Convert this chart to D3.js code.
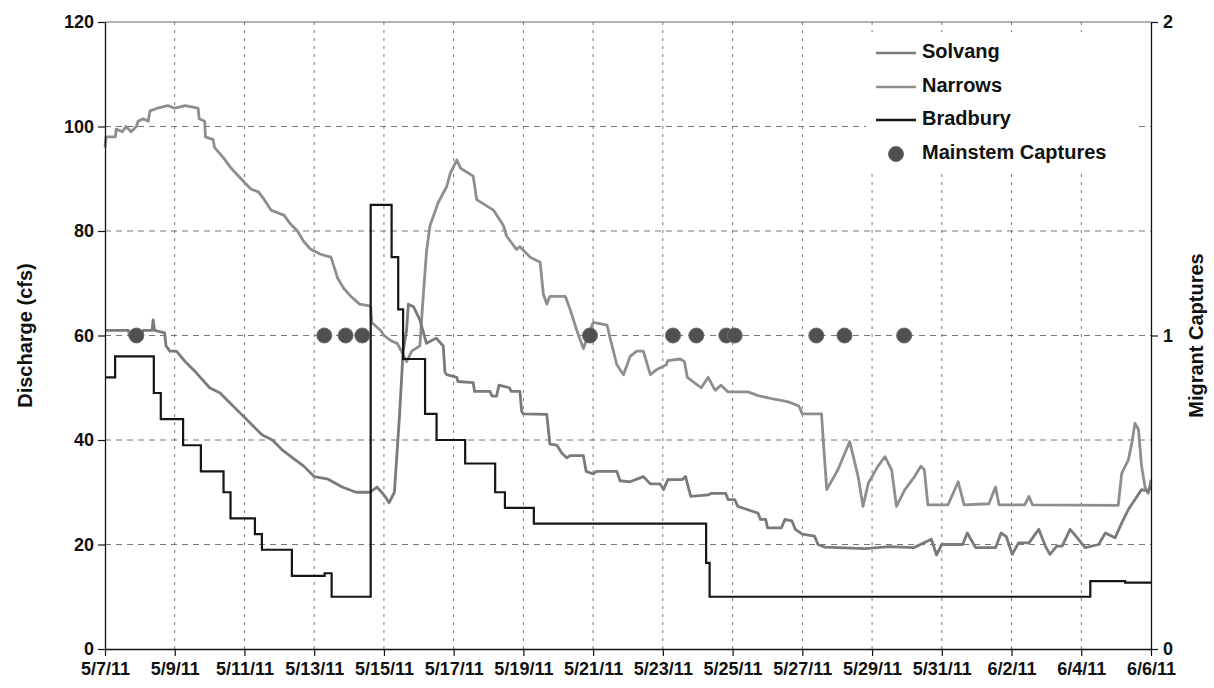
<!DOCTYPE html>
<html>
<head>
<meta charset="utf-8">
<script src="https://cdn.jsdelivr.net/npm/d3@7"></script>
<style>
  body { margin: 0; background: #fff; }
  svg text { font-family: "Liberation Sans", Arial, sans-serif; font-weight: bold; fill: #111; }
</style>
</head>
<body>
<svg id="chart" width="1214" height="688"></svg>
<script>
// Days are counted from 5/7/11 00:00
const startDate = new Date(2011, 4, 7);
const endDate = new Date(2011, 5, 6);
const dateTickDays = [0, 2, 4, 6, 8, 10, 12, 14, 16, 18, 20, 22, 24, 26, 28, 30];
const dischargeTicks = [0, 20, 40, 60, 80, 100, 120];
const captureTicks = [0, 1, 2];
const seriesNames = ['Solvang', 'Narrows', 'Bradbury', 'Mainstem Captures'];

// [day, cfs]
const solvang = [
  [0, 61], [0.67, 61], [0.7, 60], [0.9, 59.5], [1.05, 60.5], [1.1, 61], [1.35, 61], [1.38, 63],
  [1.42, 61], [1.71, 60.5], [1.75, 58], [1.86, 57], [2.05, 57], [2.3, 55], [2.6, 53], [3.0, 50],
  [3.3, 49], [3.6, 47], [3.9, 45], [4.2, 43], [4.5, 41], [4.8, 40], [5.1, 38], [5.4, 36.5],
  [5.7, 35], [6.0, 33], [6.4, 32.5], [6.8, 31], [7.2, 30], [7.6, 30], [7.8, 31], [8.0, 29.5],
  [8.15, 28], [8.3, 30], [8.45, 45], [8.55, 57], [8.65, 61], [8.7, 66], [8.85, 65.5], [9.03, 63],
  [9.22, 58.5], [9.5, 59.5], [9.7, 58], [9.75, 53], [9.8, 52.5], [10.09, 52], [10.12, 51.2],
  [10.56, 51], [10.6, 49.3], [11.04, 49.3], [11.1, 48.4], [11.23, 48.4], [11.3, 50.5], [11.6, 50],
  [11.65, 49.3], [11.9, 49.3], [11.95, 45.5], [12.0, 45], [12.67, 44.9], [12.76, 39.2], [12.96, 39],
  [13.1, 37.5], [13.24, 36.6], [13.34, 37], [13.72, 37], [13.8, 34], [14.0, 33.5], [14.1, 34],
  [14.68, 34], [14.77, 32.2], [15.06, 32], [15.44, 33], [15.64, 31.6], [15.92, 31.6], [16.02, 30.5],
  [16.14, 32.4], [16.55, 32.4], [16.65, 33], [16.8, 29.2], [17.3, 29.5], [17.4, 29.8], [17.8, 29.8],
  [17.87, 28.6], [18.06, 28.6], [18.15, 27.3], [18.5, 26.5], [18.73, 26], [18.8, 24.8], [18.95, 24.8],
  [19.0, 23.2], [19.4, 23.2], [19.5, 24.8], [19.7, 24.5], [19.8, 22.9], [20.0, 22], [20.35, 21.6],
  [20.45, 20], [20.64, 19.5], [21.8, 19.2], [22.5, 19.6], [23.2, 19.4], [23.7, 21], [23.85, 18],
  [24.0, 20], [24.6, 20], [24.73, 22.2], [24.97, 19.4], [25.54, 19.4], [25.7, 22.2], [25.85, 21.5],
  [26.02, 18.1], [26.2, 20.3], [26.5, 20.3], [26.78, 22.9], [26.97, 19.7], [27.1, 18.1], [27.3, 19.7],
  [27.45, 19.7], [27.68, 22.9], [27.92, 21], [28.11, 19.4], [28.5, 20], [28.69, 22.2], [28.97, 21.3],
  [29.16, 24.1], [29.35, 26.7], [29.54, 28.6], [29.73, 30.5], [29.92, 30.2], [30, 31],
];

const narrows = [
  [0, 96], [0.03, 98], [0.3, 98], [0.32, 99.5], [0.5, 99], [0.6, 100], [0.75, 99], [0.9, 100],
  [0.95, 101], [1.1, 101.5], [1.24, 101], [1.29, 103], [1.5, 103.5], [1.8, 104], [2.0, 103.5],
  [2.3, 104], [2.67, 103.5], [2.7, 101.5], [2.86, 101], [2.88, 98], [3.1, 97.5], [3.14, 96],
  [3.4, 94], [3.62, 92], [3.9, 90], [4.19, 88], [4.4, 87.5], [4.57, 86], [4.76, 84], [5.14, 83],
  [5.3, 81.5], [5.52, 80], [5.7, 78], [5.9, 76.5], [6.2, 75.5], [6.48, 75], [6.6, 72.5], [6.67, 71],
  [6.85, 69], [7.05, 67.5], [7.3, 66], [7.62, 65.6], [7.65, 62.5], [7.9, 61], [8.0, 60], [8.2, 59],
  [8.38, 58.5], [8.5, 57], [8.65, 55], [8.8, 57], [9.03, 58], [9.1, 65], [9.22, 76], [9.32, 81],
  [9.56, 85.5], [9.8, 88.5], [9.9, 91], [10.09, 93.6], [10.2, 92], [10.56, 90.5], [10.66, 86],
  [11.14, 84], [11.43, 81], [11.52, 79], [11.8, 76.5], [11.9, 77], [12.19, 75], [12.48, 74],
  [12.57, 68], [12.67, 66], [12.76, 67.5], [13.2, 67.5], [13.34, 65], [13.53, 61], [13.72, 57.5],
  [13.91, 61], [14.0, 62.5], [14.4, 62], [14.49, 59.4], [14.68, 54.4], [14.87, 52.5], [15.06, 56],
  [15.25, 57], [15.44, 57], [15.64, 52.5], [15.83, 53.5], [16.1, 54.4], [16.14, 55.2], [16.5, 55.5],
  [16.62, 55], [16.7, 52], [16.9, 51], [17.1, 50], [17.3, 52], [17.5, 49.5], [17.67, 50.5],
  [17.87, 49.2], [18.44, 49.2], [18.73, 48.5], [19.2, 47.8], [19.6, 47.3], [19.9, 46.5], [20.0, 45],
  [20.55, 45], [20.62, 38], [20.7, 30.5], [21.02, 34.3], [21.36, 39.7], [21.6, 33], [21.74, 27.3],
  [21.89, 31.7], [22.17, 35], [22.37, 36.8], [22.56, 34.3], [22.7, 27.3], [22.94, 30.5], [23.22, 33],
  [23.4, 35], [23.5, 34.3], [23.6, 27.6], [24.18, 27.6], [24.47, 32], [24.64, 27.6], [25.35, 27.8],
  [25.54, 31], [25.64, 27.6], [26.38, 27.6], [26.5, 29.2], [26.6, 27.6], [29.06, 27.5], [29.16, 33.6],
  [29.35, 36.2], [29.45, 39.4], [29.54, 43.2], [29.64, 42], [29.73, 35], [29.83, 31], [29.92, 29.8],
  [30, 32.4],
];

// release steps: [day the value starts, cfs]
const bradbury = [
  [0, 52], [0.29, 56], [1.4, 49], [1.6, 44], [2.24, 39], [2.75, 34], [3.4, 30], [3.6, 25],
  [4.3, 22], [4.5, 19], [5.36, 14], [6.3, 14.5], [6.5, 10], [7.62, 85], [8.22, 75], [8.41, 65],
  [8.55, 55.5], [9.18, 45], [9.51, 40], [10.33, 35.5], [11.19, 30], [11.47, 27], [12.3, 24],
  [17.24, 16.5], [17.34, 10], [28.26, 13], [29.26, 12.7], [30, 12.7],
];

const captureDays = [0.9, 6.29, 6.9, 7.38, 13.91, 16.29, 16.96, 17.82, 18.06, 20.4, 21.21, 22.92];
const captureCounts = [1, 1, 1, 1, 1, 1, 1, 1, 1, 1, 1, 1];

const d3 = window.d3;
const svg = d3.select('#chart');
const margin = {top: 22, right: 63, bottom: 39, left: 105};
const W = 1214;
const H = 688;

const toDate = (d) => d3.timeMinute.offset(startDate, Math.round(d * 1440));

const x = d3.scaleTime().domain([startDate, endDate])
    .range([margin.left, W - margin.right]);
const y = d3.scaleLinear().domain([0, 120]).range([H - margin.bottom, margin.top]);
const y2 = d3.scaleLinear().domain([0, 2]).range([H - margin.bottom, margin.top]);

// grid
svg.append('g').selectAll('line')
    .data(dischargeTicks.filter((t) => t > 0 && t < 120))
    .join('line')
    .attr('x1', margin.left).attr('x2', W - margin.right)
    .attr('y1', (d) => y(d)).attr('y2', (d) => y(d))
    .attr('stroke', '#777').attr('stroke-width', 1).attr('stroke-dasharray', '6,5');

svg.append('g').selectAll('line')
    .data(dateTickDays.filter((t) => t > 0 && t < 30))
    .join('line')
    .attr('x1', (d) => x(toDate(d))).attr('x2', (d) => x(toDate(d)))
    .attr('y1', margin.top).attr('y2', H - margin.bottom)
    .attr('stroke', '#777').attr('stroke-width', 1).attr('stroke-dasharray', '3,5');

// top border
svg.append('line')
    .attr('x1', margin.left).attr('x2', W - margin.right)
    .attr('y1', margin.top).attr('y2', margin.top)
    .attr('stroke', '#666').attr('stroke-width', 1);

// series
const line = d3.line().x((d) => x(toDate(d[0]))).y((d) => y(d[1]));

svg.append('path').datum(narrows)
    .attr('fill', 'none').attr('stroke', '#8e8e8e').attr('stroke-width', 2.8)
    .attr('stroke-linejoin', 'round').attr('d', line);

svg.append('path').datum(solvang)
    .attr('fill', 'none').attr('stroke', '#7a7a7a').attr('stroke-width', 2.8)
    .attr('stroke-linejoin', 'round').attr('d', line);

svg.append('path').datum(bradbury)
    .attr('fill', 'none').attr('stroke', '#151515').attr('stroke-width', 2.2)
    .attr('d', line.curve(d3.curveStepAfter));

// captures on right axis
svg.append('g').selectAll('circle')
    .data(captureDays.map((d, i) => [d, captureCounts[i]]))
    .join('circle')
    .attr('cx', (d) => x(toDate(d[0])))
    .attr('cy', (d) => y2(d[1]))
    .attr('r', 7.5)
    .attr('fill', '#505050')
    .attr('stroke', '#6a6a6a');

// axes
const styleAxis = (g) => {
  g.selectAll('path.domain').attr('stroke', '#111').attr('stroke-width', 1.3);
  g.selectAll('.tick line').attr('stroke', '#111').attr('stroke-width', 1.2);
  g.selectAll('.tick text').attr('font-size', '18px')
      .attr('font-family', '"Liberation Sans", Arial, sans-serif')
      .attr('font-weight', 'bold').attr('fill', '#111');
};

svg.append('g')
    .attr('transform', `translate(${margin.left},0)`)
    .call(d3.axisLeft(y).tickValues(dischargeTicks).tickSize(7).tickSizeOuter(0).tickPadding(4))
    .call(styleAxis);

svg.append('g')
    .attr('transform', `translate(${W - margin.right},0)`)
    .call(d3.axisRight(y2).tickValues(captureTicks).tickFormat(d3.format('d'))
        .tickSize(7).tickSizeOuter(0).tickPadding(5))
    .call(styleAxis);

svg.append('g')
    .attr('transform', `translate(0,${H - margin.bottom})`)
    .call(d3.axisBottom(x).tickValues(dateTickDays.map(toDate))
        .tickFormat(d3.timeFormat('%-m/%-d/%y')).tickSize(7).tickSizeOuter(0).tickPadding(6))
    .call(styleAxis);

// axis titles
svg.append('text')
    .attr('transform', `translate(27,${(margin.top + H - margin.bottom) / 2}) rotate(-90)`)
    .attr('text-anchor', 'middle').attr('dominant-baseline', 'middle')
    .attr('font-size', '20px')
    .text('Discharge (cfs)');

svg.append('text')
    .attr('transform', `translate(1198,${(margin.top + H - margin.bottom) / 2}) rotate(-90)`)
    .attr('text-anchor', 'middle').attr('dominant-baseline', 'middle')
    .attr('font-size', '20px')
    .text('Migrant Captures');

// legend (white box hides the grid behind it)
const legendY = [53, 87, 120, 154];
const legendStroke = ['#7a7a7a', '#8e8e8e', '#151515'];
const legend = svg.append('g');
legend.append('rect')
    .attr('x', 866).attr('y', 32).attr('width', 268).attr('height', 140)
    .attr('fill', '#fff');
seriesNames.forEach((name, i) => {
  if (i < 3) {
    legend.append('line')
        .attr('x1', 876).attr('x2', 916)
        .attr('y1', legendY[i]).attr('y2', legendY[i])
        .attr('stroke', legendStroke[i]).attr('stroke-width', 2.4);
  } else {
    legend.append('circle')
        .attr('cx', 896).attr('cy', legendY[i]).attr('r', 7.5)
        .attr('fill', '#505050').attr('stroke', '#6a6a6a');
  }
  legend.append('text')
      .attr('x', 922).attr('y', legendY[i])
      .attr('dominant-baseline', 'middle')
      .attr('font-size', '20px')
      .text(name);
});
</script>
</body>
</html>
